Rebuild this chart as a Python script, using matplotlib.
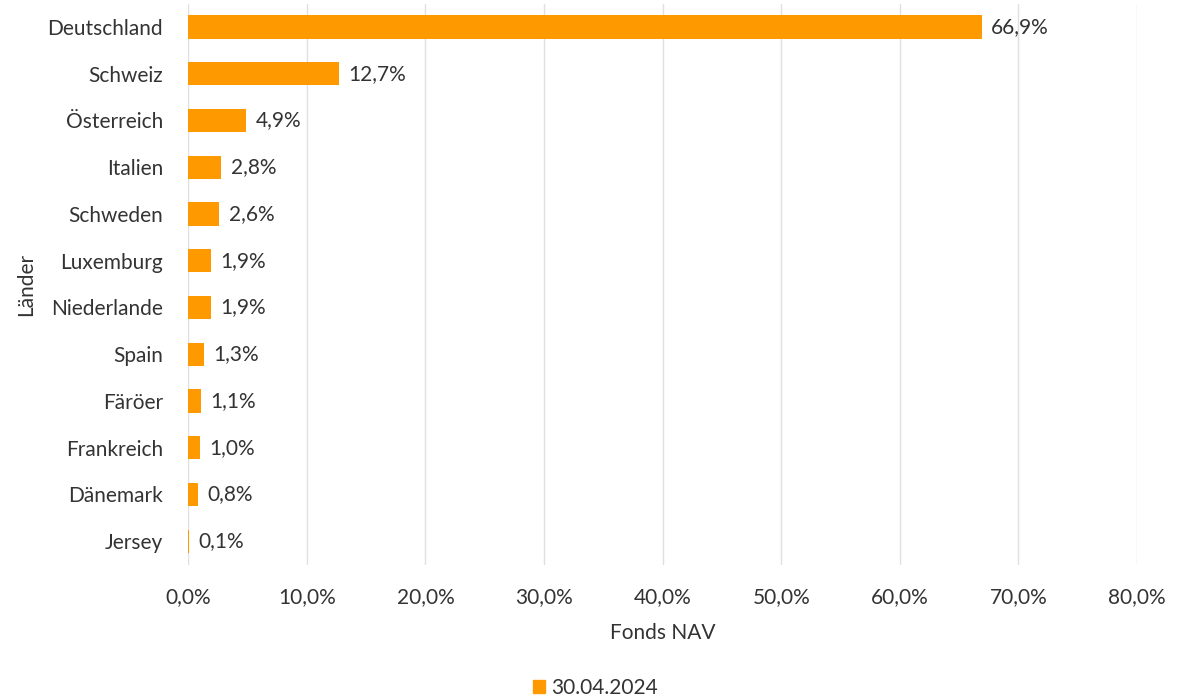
import matplotlib
matplotlib.use("Agg")
from matplotlib import pyplot as plt
from matplotlib.ticker import FuncFormatter, MultipleLocator
import matplotlib.patches as mpatches

countries = ["Deutschland", "Schweiz", "Österreich", "Italien", "Schweden", "Luxemburg",
             "Niederlande", "Spain", "Färöer", "Frankreich", "Dänemark", "Jersey"]
values = [66.9, 12.7, 4.9, 2.8, 2.6, 1.9, 1.9, 1.3, 1.1, 1.0, 0.8, 0.1]
series_name = "30.04.2024"

bar_color = "#FF9900"
text_color = "#333333"

plt.rcParams['font.family'] = ['Lato', 'DejaVu Sans']

fig = plt.figure(figsize=(11.91, 6.96), dpi=100)
ax = fig.add_axes([0.158, 0.1888, 0.7967, 0.806])

y = list(range(len(countries)))
ax.barh(y, values, height=0.5, color=bar_color, zorder=3)
ax.set_ylim(len(countries) - 0.5, -0.5)
ax.set_yticks(y)
ax.set_yticklabels(countries, fontsize=15, color=text_color)

for yi, v in zip(y, values):
    ax.text(v + 0.8, yi, f"{v:.1f}%".replace(".", ","), va="center", ha="left",
            fontsize=15, color=text_color)

ax.set_xlim(0, 80)
ax.xaxis.set_major_locator(MultipleLocator(10))
ax.xaxis.set_major_formatter(FuncFormatter(lambda x, _: f"{x:.1f}%".replace(".", ",")))
ax.tick_params(axis="x", labelsize=15, labelcolor=text_color, length=0, pad=16)
ax.tick_params(axis="y", length=0, pad=18)
ax.grid(axis="x", color="#e0e0e0", linewidth=1, zorder=0)
for s in ax.spines.values():
    s.set_visible(False)

ax.set_xlabel("Fonds NAV", fontsize=15, color=text_color, labelpad=12)
ax.set_ylabel("Länder", fontsize=15, color=text_color, labelpad=8)

handle = mpatches.Patch(color=bar_color, label=series_name)
fig.legend(handles=[handle], loc="center", bbox_to_anchor=(0.5, 0.012), frameon=False,
           fontsize=15, handlelength=0.6, handleheight=0.6, handletextpad=0.3,
           labelcolor=text_color)

fig.savefig("out.png", dpi=100)
